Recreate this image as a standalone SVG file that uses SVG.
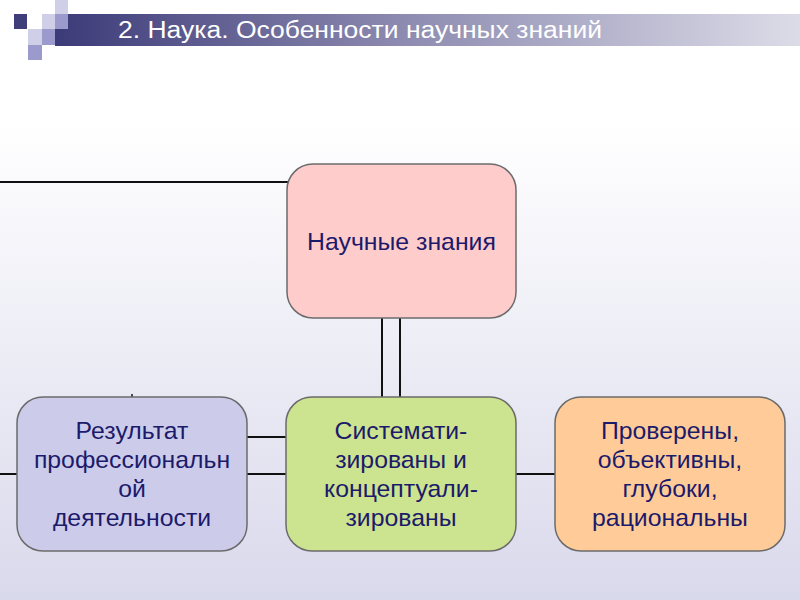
<svg xmlns="http://www.w3.org/2000/svg" width="800" height="600" viewBox="0 0 800 600">
<defs>
<linearGradient id="bg" x1="0" y1="0" x2="0" y2="1">
<stop offset="0" stop-color="#ffffff"/>
<stop offset="0.2" stop-color="#ffffff"/>
<stop offset="1" stop-color="#d9d9ec"/>
</linearGradient>
<linearGradient id="band" x1="0" y1="0" x2="1" y2="0">
<stop offset="0" stop-color="#3c3a78"/>
<stop offset="0.45" stop-color="#8a88ae"/>
<stop offset="1" stop-color="#dcdce8"/>
</linearGradient>
<style>
.node{stroke:#6b6b6b;stroke-width:1.5}
.t{font-family:"Liberation Sans",Arial,sans-serif;font-size:24.8px;fill:#1c1a6a;text-anchor:middle}
.c{stroke:#111;stroke-width:2;fill:none}
.lt{fill:#cfcfe8}
.md{fill:#9c9acc}
</style>
</defs>
<rect width="800" height="600" fill="url(#bg)"/>
<g id="header">
<rect x="55" y="14" width="745" height="32" fill="url(#band)"/>
<rect x="14" y="14" width="13" height="15" fill="#3f3d7a"/>
<rect class="lt" x="55" y="0" width="13" height="14"/>
<rect class="lt" x="42" y="14" width="13" height="15"/>
<rect class="md" x="55" y="14" width="13" height="15"/>
<rect class="lt" x="28" y="29" width="14" height="16"/>
<rect class="md" x="42" y="29" width="13" height="16"/>
<rect class="md" x="28" y="45" width="14" height="15"/>
<text x="118" y="38" font-family="'Liberation Sans',Arial,sans-serif" font-size="23" fill="#ffffff" textLength="484" lengthAdjust="spacingAndGlyphs">2. Наука. Особенности научных знаний</text>
</g>
<g id="connectors">
<line class="c" x1="0" y1="182" x2="288" y2="182"/>
<line class="c" x1="382" y1="318" x2="382" y2="397"/>
<line class="c" x1="400" y1="318" x2="400" y2="397"/>
<line class="c" x1="247" y1="437" x2="286" y2="437"/>
<line class="c" x1="247" y1="474" x2="286" y2="474"/>
<line class="c" x1="0" y1="474" x2="17" y2="474"/>
<line class="c" x1="516" y1="474" x2="555" y2="474"/>
<line stroke="#111" stroke-width="1.5" x1="132" y1="394" x2="132" y2="397"/>
</g>
<g id="node-science">
<rect class="node" x="287" y="164" width="229" height="154" rx="26" fill="#ffcccc"/>
<text class="t" x="401.5" y="250">Научные знания</text>
</g>
<g id="node-result">
<rect class="node" x="17" y="397" width="230" height="154" rx="26" fill="#ccccea"/>
<text class="t" x="132" y="439">Результат</text>
<text class="t" x="132" y="468">профессиональн</text>
<text class="t" x="132" y="497">ой</text>
<text class="t" x="132" y="526">деятельности</text>
</g>
<g id="node-system">
<rect class="node" x="286" y="397" width="230" height="154" rx="26" fill="#cce38f"/>
<text class="t" x="401" y="439">Системати-</text>
<text class="t" x="401" y="468">зированы и</text>
<text class="t" x="401" y="497">концептуали-</text>
<text class="t" x="401" y="526">зированы</text>
</g>
<g id="node-checked">
<rect class="node" x="555" y="397" width="230" height="154" rx="26" fill="#ffcc99"/>
<text class="t" x="670" y="439">Проверены,</text>
<text class="t" x="670" y="468">объективны,</text>
<text class="t" x="670" y="497">глубоки,</text>
<text class="t" x="670" y="526">рациональны</text>
</g>
</svg>
